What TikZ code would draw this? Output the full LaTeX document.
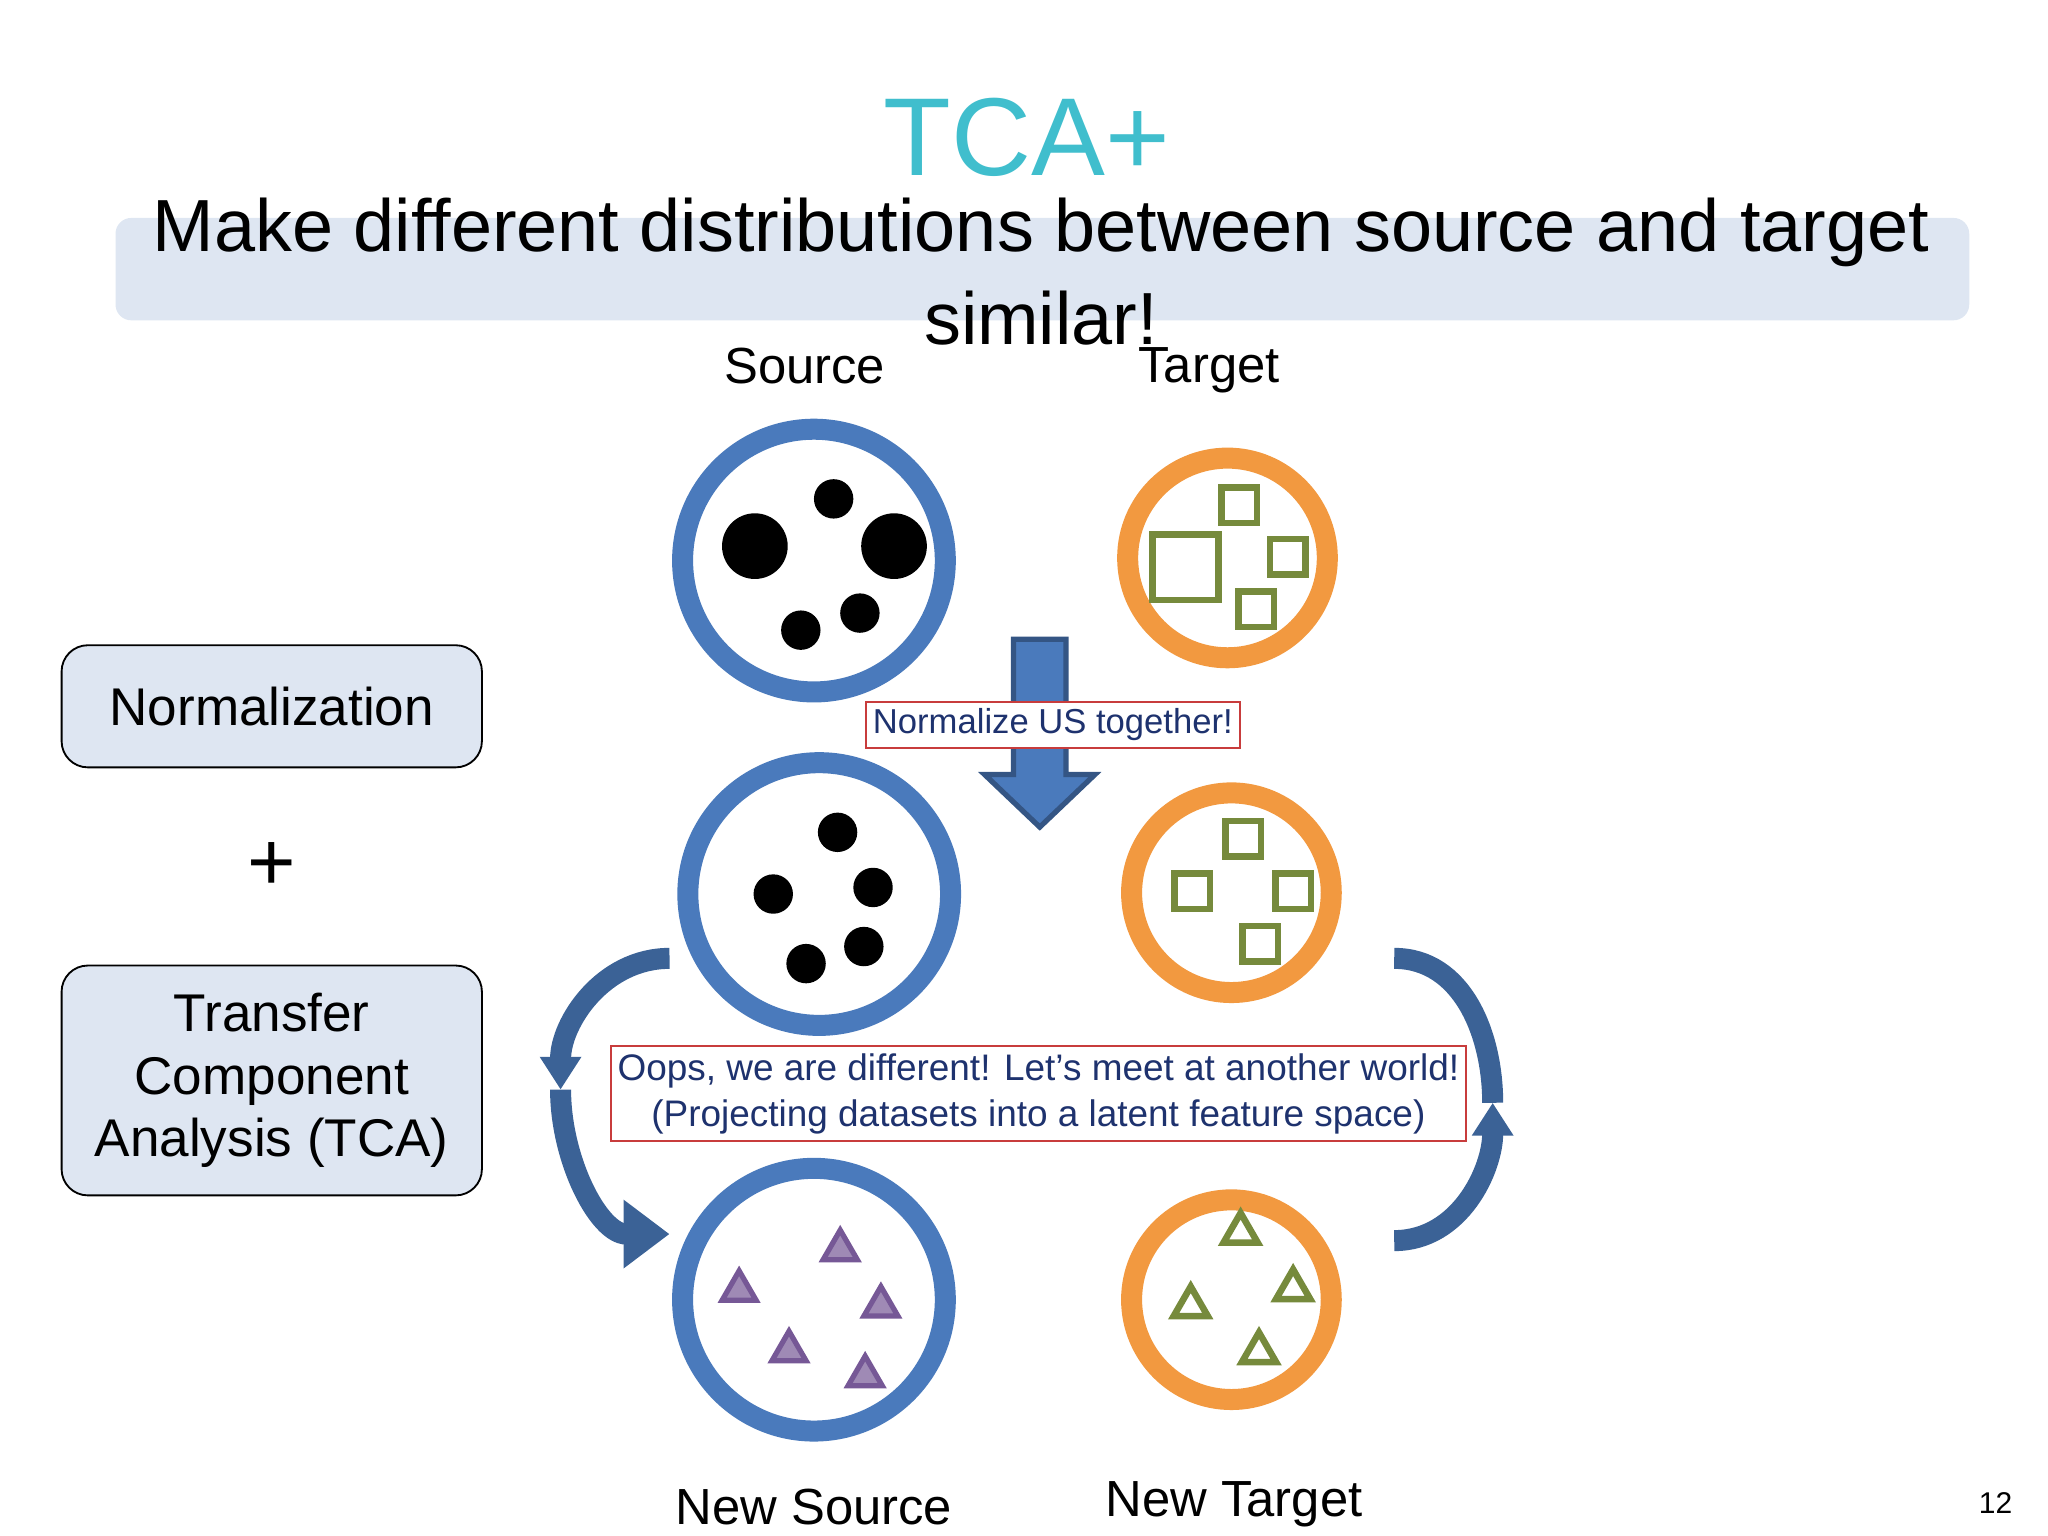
\documentclass[tikz,border=0pt]{standalone}
\usepackage{fontspec}
\setmainfont{Liberation Sans}
\usetikzlibrary{arrows.meta,positioning,shapes.geometric}
\definecolor{tcacyan}{RGB}{64,190,205}
\definecolor{srcblue}{RGB}{74,122,188}
\definecolor{tgtorange}{RGB}{242,153,64}
\definecolor{olive}{RGB}{118,138,60}
\definecolor{purp}{RGB}{118,88,150}
\definecolor{boxfill}{RGB}{222,230,242}
\definecolor{redbox}{RGB}{200,60,60}
\definecolor{navy}{RGB}{30,50,110}
\tikzset{
  src/.style={circle,draw=srcblue,line width=1.6mm,minimum size=2.0cm,inner sep=0pt},
  tgt/.style={circle,draw=tgtorange,line width=1.6mm,minimum size=1.52cm,inner sep=0pt},
  dot/.style={circle,fill=black,inner sep=0pt,minimum size=#1},
  sq/.style={draw=olive,line width=0.5mm,minimum size=#1,inner sep=0pt},
  tri/.style={regular polygon,regular polygon sides=3,draw=purp,fill=purp!70,line width=0.4mm,minimum size=0.3cm,inner sep=0pt},
  otri/.style={regular polygon,regular polygon sides=3,draw=olive,line width=0.5mm,minimum size=0.3cm,inner sep=0pt},
  side/.style={draw,rounded corners=0.2cm,fill=boxfill,align=center,font=\fontsize{11.5}{13.5}\selectfont},
  note/.style={draw=redbox,fill=white,text=navy,align=center,font=\fontsize{7.5}{9}\selectfont,inner sep=1.5pt},
  lbl/.style={font=\fontsize{11}{13}\selectfont},
  swoop/.style={draw=srcblue!80!black,line width=1.6mm,-{Triangle[length=3.5mm,width=5mm]}}
}
\begin{document}
\begin{tikzpicture}[x=0.01cm,y=-0.01cm]
\useasboundingbox (0,0) rectangle (1560,1170);
% header
\node[text=tcacyan,font=\fontsize{24}{28}\selectfont] (title) at (782,105) {TCA+};
\fill[boxfill,rounded corners=0.12cm] (88,166) rectangle (1500,244);
\node[align=center,font=\fontsize{16}{20}\selectfont] (sub) at (793,207) {Make different distributions between source and target\\similar!};
% left boxes
\node[side,minimum width=3.2cm,minimum height=0.93cm] (norm) at (207,538) {Normalization};
\node[font=\fontsize{18}{20}\selectfont] (plus) at (207,660) {+};
\node[side,minimum width=3.2cm,minimum height=1.75cm] (tca) at (207,823) {Transfer\\Component\\Analysis (TCA)};
% labels
\node[lbl] (lsrc) at (613,279) {Source};
\node[lbl] (ltgt) at (921,282) {Target};
\node[lbl] (lnsrc) at (620,1148) {New Source};
\node[lbl] (lntgt) at (940,1146) {New Target};
\node[font=\fontsize{6.5}{8}\selectfont] (page) at (1520,1145) {12};
% circles
\node[src] (s1) at (620,427) {};
\node[tgt] (t1) at (935,425) {};
\node[src] (s2) at (624,681) {};
\node[tgt] (t2) at (938,680) {};
\node[src] (s3) at (620,990) {};
\node[tgt] (t3) at (938,990) {};
% contents
\foreach \x/\y/\d in {575/416/0.5cm,681/416/0.5cm,635/380/0.3cm,610/480/0.3cm,655/467/0.3cm}
  \node[dot=\d] at (\x,\y) {};
\foreach \x/\y/\s in {903/432/0.5cm,944/385/0.27cm,981/424/0.27cm,957/464/0.27cm}
  \node[sq=\s] at (\x,\y) {};
\foreach \x/\y in {638/634,589/681,665/676,614/734,658/721}
  \node[dot=0.3cm] at (\x,\y) {};
\foreach \x/\y in {947/639,908/679,985/679,960/719}
  \node[sq=0.27cm] at (\x,\y) {};
\foreach \x/\y in {640/952,563/983,671/995,601/1029,659/1048}
  \node[tri] at (\x,\y) {};
\foreach \x/\y in {945/939,907/995,985/982,959/1030}
  \node[otri] at (\x,\y) {};
% big down arrow
\fill[srcblue,draw=srcblue!70!black,line width=0.4mm] (772,487) -- (812,487) -- (812,590) -- (834,590) -- (792,630) -- (750,590) -- (772,590) -- cycle;
\node[note] (n1) at (802,552) {Normalize US together!};
% curved arrows
\coordinate (la) at (510,730);
\coordinate (lb) at (427,830);
\coordinate (lc) at (510,940);
\coordinate (ra) at (1062,730);
\coordinate (rb) at (1137,840);
\coordinate (rc) at (1062,945);
\draw[swoop,-{Triangle[length=2.5mm,width=3mm]}] (la) to[out=180,in=90] (lb);
\draw[swoop] (lb) to[out=270,in=180] (lc);
\draw[swoop,-{Triangle[length=2.5mm,width=3mm]}] (rc) to[out=0,in=270] (rb);
\draw[swoop,-] (rb) to[out=90,in=0] (ra);
\node[note,font=\fontsize{8}{10}\selectfont] (n2) at (791,833) {Oops, we are different! Let’s meet at another world!\\(Projecting datasets into a latent feature space)};
\end{tikzpicture}
\end{document}
